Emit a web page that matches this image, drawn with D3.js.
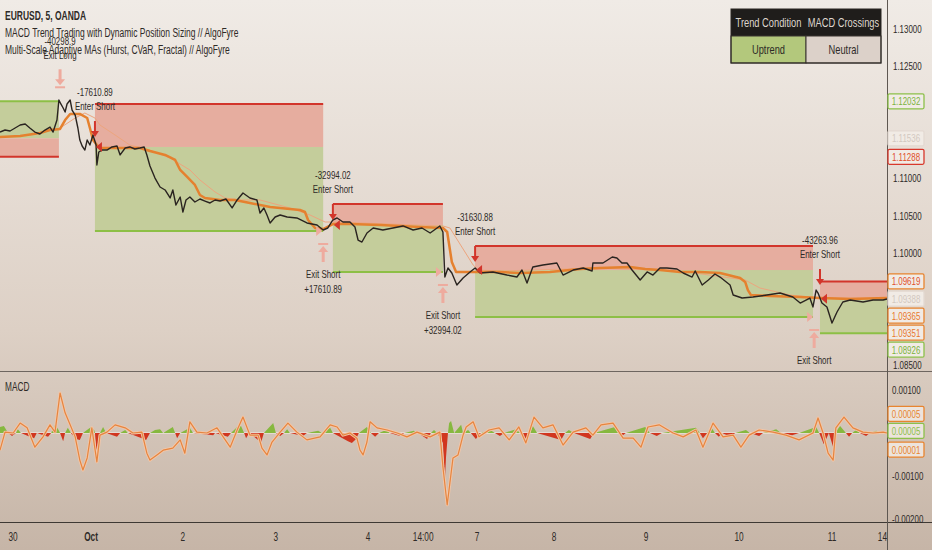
<!DOCTYPE html>
<html>
<head>
<meta charset="utf-8">
<script src="https://cdn.jsdelivr.net/npm/d3@7/dist/d3.min.js"></script>
<style>
html, body { margin: 0; padding: 0; background: #e4d9cf; overflow: hidden; }
svg { display: block; }
text { font-family: "Liberation Sans", Arial, sans-serif; fill: #2e2a27; }
</style>
</head>
<body>
<div id="chart"></div>
<script>
// time unit = hours of the visible (gapless) session axis
var tickT = [3.35, 23.5, 47.2, 71.2, 95.0, 109.2, 123.1, 143.0, 166.7, 190.7, 214.7, 229.2];
var tickLabels = ["30", "Oct", "2", "3", "4", "14:00", "7", "8", "9", "10", "11", "14:00"];

var priceTicks = [1.13, 1.125, 1.11, 1.105, 1.10, 1.085];
var macdTicks = [0.001, -0.001, -0.002];

// EURUSD close
var priceT = [0, 1.3, 2.6, 3.9, 5.2, 6.5, 7.7, 9.0, 10.3, 11.6, 12.9, 13.7, 14.2, 14.7, 15.2, 15.7, 16.3, 16.8, 17.3, 18.1,
  18.6, 19.4, 20.1, 20.6, 21.2, 21.9, 22.5, 23.2, 24.0, 24.8, 25.0, 25.5, 26.3, 27.6, 28.9, 30.2, 31.0, 32.3, 33.5, 34.8,
  36.1, 37.2, 37.9, 38.7, 40.0, 41.3, 42.6, 43.9, 44.6, 45.4, 46.5, 47.2, 48.0, 49.0, 50.3, 51.6, 52.9, 54.2, 55.5, 56.8,
  58.3, 59.9, 61.2, 62.7, 64.5, 66.3, 67.1, 68.1, 68.9, 69.7, 71.0, 72.3, 74.1, 76.6, 79.2, 81.8, 83.4, 84.6, 85.9, 87.0,
  88.5, 90.3, 91.6, 92.4, 93.4, 94.7, 96.3, 98.8, 101.4, 104.0, 106.6, 108.9, 111.0, 113.5, 114.3, 114.8, 115.6, 116.6, 117.9, 119.5,
  121.3, 122.6, 123.9, 127.2, 130.8, 133.4, 134.7, 136.0, 137.5, 140.1, 143.7, 145.3, 147.9, 150.5, 152.8, 153.0, 155.6, 158.0, 159.2, 160.5,
  161.8, 163.1, 165.2, 167.0, 168.5, 170.3, 172.1, 174.7, 176.3, 178.6, 179.4, 181.2, 182.8, 184.5, 185.8, 188.4, 189.2, 191.5, 194.3, 197.9,
  201.3, 204.6, 206.5, 209.0, 209.8, 210.6, 211.1, 212.1, 213.4, 214.7, 216.0, 217.5, 219.4, 222.7, 225.3, 227.9, 228.9];
var priceV = [1.11620, 1.11647, 1.11634, 1.11674, 1.11714, 1.11728, 1.11674, 1.11620, 1.11594, 1.11647, 1.11687, 1.11620, 1.11701, 1.11781, 1.12049, 1.11996, 1.11942, 1.11888, 1.11996, 1.12049,
  1.11915, 1.11848, 1.11674, 1.11513, 1.11433, 1.11379, 1.11513, 1.11446, 1.11580, 1.11446, 1.11179, 1.11353, 1.11379, 1.11379, 1.11420, 1.11433, 1.11313, 1.11406, 1.11420, 1.11393,
  1.11406, 1.11420, 1.11313, 1.11165, 1.11004, 1.10884, 1.10844, 1.10737, 1.10844, 1.10643, 1.10750, 1.10549, 1.10710, 1.10750, 1.10683, 1.10723, 1.10696, 1.10670, 1.10710, 1.10696,
  1.10723, 1.10603, 1.10710, 1.10804, 1.10737, 1.10710, 1.10536, 1.10603, 1.10509, 1.10402, 1.10482, 1.10509, 1.10482, 1.10469, 1.10402, 1.10375, 1.10308, 1.10335, 1.10442, 1.10469,
  1.10415, 1.10415, 1.10348, 1.10174, 1.10147, 1.10268, 1.10335, 1.10308, 1.10335, 1.10362, 1.10308, 1.10335, 1.10268, 1.10362, 1.10281, 1.09679, 1.09799, 1.09732, 1.09571, 1.09665,
  1.09746, 1.09799, 1.09732, 1.09746, 1.09705, 1.09679, 1.09772, 1.09598, 1.09812, 1.09839, 1.09866, 1.09705, 1.09772, 1.09799, 1.09759, 1.09866, 1.09866, 1.09946, 1.09933, 1.09866,
  1.09866, 1.09772, 1.09638, 1.09746, 1.09705, 1.09799, 1.09799, 1.09786, 1.09732, 1.09678, 1.09759, 1.09571, 1.09638, 1.09719, 1.09678, 1.09571, 1.09437, 1.09397, 1.09411, 1.09437,
  1.09464, 1.09411, 1.09330, 1.09397, 1.09277, 1.09504, 1.09464, 1.09330, 1.09277, 1.09062, 1.09210, 1.09344, 1.09370, 1.09344, 1.09370, 1.09370, 1.09384];

// adaptive MAs
var maFastT = [0, 5.2, 10.3, 12.9, 15.5, 16.8, 18.1, 20.6, 22.5, 23.2, 24.0, 25.0, 25.8, 28.4, 36.1, 38.7, 42.6, 45.2, 46.5, 48.3,
  50.3, 51.6, 52.9, 56.8, 60.6, 64.5, 69.7, 77.4, 78.7, 79.5, 81.3, 83.4, 85.9, 90.3, 98.1, 108.4, 114.3, 115.4, 116.6, 117.7,
  123.1, 129.0, 134.2, 141.9, 149.7, 154.8, 162.6, 166.5, 170.3, 175.5, 180.6, 185.8, 191.0, 192.3, 193.0, 193.8, 198.7, 206.5, 211.6, 219.4, 228.9];
var maFastV = [1.11554, 1.11567, 1.11607, 1.11647, 1.11661, 1.11781, 1.11862, 1.11862, 1.11808, 1.11674, 1.11513, 1.11446, 1.11406, 1.11406, 1.11406, 1.11366, 1.11313, 1.11246, 1.11112, 1.11018,
  1.10911, 1.10777, 1.10737, 1.10710, 1.10710, 1.10670, 1.10616, 1.10576, 1.10549, 1.10442, 1.10335, 1.10321, 1.10388, 1.10388, 1.10375, 1.10348, 1.10335, 1.10281, 1.09879, 1.09746,
  1.09746, 1.09746, 1.09732, 1.09746, 1.09786, 1.09799, 1.09812, 1.09786, 1.09772, 1.09746, 1.09746, 1.09732, 1.09665, 1.09612, 1.09504, 1.09437, 1.09424, 1.09411, 1.09397, 1.09384, 1.09397];
var maSlowT = [7.7, 15.5, 19.4, 21.9, 24.5, 25.8, 29.7, 33.5, 38.7, 43.9, 49.0, 51.6, 55.5, 58.1, 61.9, 67.1, 74.8, 80.0, 83.9, 86.5,
  114.3, 116.1, 122.1, 123.4, 129.0, 154.8, 175.5, 192.3, 196.1, 203.9, 211.6, 228.9];
var maSlowV = [1.11580, 1.11674, 1.11808, 1.11875, 1.11808, 1.11714, 1.11580, 1.11446, 1.11379, 1.11272, 1.11112, 1.10978, 1.10817, 1.10737, 1.10710, 1.10710, 1.10603, 1.10509, 1.10415, 1.10415,
  1.10362, 1.10335, 1.09839, 1.09772, 1.09759, 1.09799, 1.09759, 1.09638, 1.09531, 1.09437, 1.09397, 1.09397];

// positions: start, end, entry, stop, target
var posStart = [0, 24.5, 85.9, 122.6, 211.6];
var posEnd = [15.2, 83.4, 114.3, 209.8, 228.9];
var posEntry = [1.11536, 1.11420, 1.10375, 1.09772, 1.09388];
var posStop = [1.11288, 1.11996, 1.10656, 1.10094, 1.09619];
var posTarget = [1.12032, 1.10295, 1.09746, 1.09143, 1.08926];

// short entries; the arrow sits on the signal bar's high
var entryT = [24.5, 85.9, 122.6, 211.6];
var entryPrice = [1.11420, 1.10375, 1.09772, 1.09388];
var entryHigh = [1.11446, 1.10335, 1.09772, 1.09464];
var entryLabels = ["-17610.89", "-32994.02", "-31630.88", "-43263.96"];

var exitT = [83.4, 114.3, 210.1];
var exitPrice = [1.10295, 1.09746, 1.09143];
var exitLabels = ["+17610.89", "+32994.02", "+31630.88"];
var exitLongT = 15.5, exitLongPrice = 1.12032, exitLongLabel = "-40298.9";

var priceLabelValues = [1.12032, 1.11536, 1.11288, 1.09619, 1.09388, 1.09365, 1.09351, 1.08926];
var priceLabelBorder = ["#8cc04a", "#e3d9d1", "#d8382c", "#e8842f", "#e3d9d1", "#e8842f", "#e8842f", "#8cc04a"];
var priceLabelText = ["#7cb33e", "#d2c8c0", "#e0502c", "#e0502c", "#d2c8c0", "#e8782c", "#e8782c", "#7cb33e"];

// MACD pane
var macdT = [0, 1.3, 3.4, 5.2, 7.0, 9.0, 11.1, 12.9, 14.2, 15.5, 16.8, 18.1, 19.4, 20.6, 21.4, 22.5, 23.7, 25.0, 25.8, 27.6,
  29.7, 32.3, 34.3, 36.6, 37.9, 38.7, 40.5, 42.1, 44.6, 46.5, 47.7, 49.0, 50.8, 53.4, 56.0, 59.4, 61.2, 62.7, 64.5, 66.6,
  67.6, 68.9, 70.2, 72.3, 74.3, 76.6, 79.2, 82.6, 85.2, 87.0, 88.5, 90.3, 92.1, 92.9, 93.7, 94.7, 95.5, 97.3, 99.9, 102.5,
  105.0, 107.6, 111.0, 113.5, 114.3, 115.4, 116.1, 116.9, 118.2, 119.5, 120.3, 122.1, 123.6, 126.2, 128.8, 131.4, 133.9, 135.7, 137.8, 140.1,
  142.7, 145.3, 147.9, 151.2, 153.0, 155.1, 158.2, 160.8, 163.4, 165.4, 167.2, 170.1, 173.7, 176.3, 179.6, 181.4, 184.0, 186.6, 189.2, 191.2,
  193.3, 195.9, 199.5, 202.8, 206.2, 209.8, 211.1, 212.4, 213.7, 215.0, 215.7, 217.8, 220.1, 222.7, 225.3, 227.9, 228.9];
var macdV = [-0.00040, 0.00002, 0, 0.00023, 0.00012, -0.00033, -0.00009, 0.00019, 0.00002, 0.00093, 0.00047, 0.00019, -0.00009, -0.00063, -0.00086, -0.00058, 0.00012, -0.00067, -0.00005, 0.00002,
  0.00019, 0.00012, 0, 0.00002, -0.00047, -0.00063, -0.00051, -0.00040, -0.00035, -0.00016, -0.00047, 0.00026, 0.00002, 0, 0.00012, -0.00033, 0.00007, 0.00037, -0.00005, -0.00005,
  -0.00035, -0.00051, -0.00021, 0.00002, 0.00023, 0.00002, -0.00016, -0.00009, 0.00019, 0.00014, -0.00005, 0, -0.00012, -0.00040, -0.00051, -0.00021, 0.00026, 0.00012, 0.00007, 0,
  -0.00009, 0.00002, -0.00009, 0.00002, -0.00079, -0.00167, -0.00116, -0.00058, -0.00051, -0.00005, 0.00014, 0.00026, -0.00009, 0.00007, 0.00012, -0.00016, 0.00014, -0.00023, 0.00037, 0.00012,
  0.00019, -0.00028, 0.00002, 0.00012, -0.00005, 0.00019, 0.00023, -0.00012, -0.00012, -0.00033, 0.00014, 0.00019, 0, -0.00009, 0.00007, -0.00033, 0.00023, -0.00009, -0.00005, -0.00033,
  -0.00005, 0.00007, 0.00002, -0.00005, -0.00016, 0, 0.00035, 0, -0.00047, -0.00063, 0.00012, 0.00037, 0.00012, 0.00002, 0, 0.00002, 0];

var histT = [0, 1.0, 2.1, 3.1, 4.1, 4.6, 5.4, 7.7, 8.8, 9.5, 12.4, 13.2, 14.2, 15.0, 15.5, 16.3, 16.8, 17.5, 18.3, 19.6,
  20.6, 21.4, 23.5, 24.3, 24.5, 24.9, 25.5, 25.8, 26.6, 27.4, 30.2, 31.0, 32.3, 33.0, 36.6, 37.7, 38.7, 40.0, 41.3, 42.1,
  44.6, 45.2, 45.7, 46.5, 49.0, 49.8, 55.0, 55.5, 58.8, 59.6, 61.2, 62.2, 63.0, 63.5, 64.3, 66.6, 67.4, 68.1, 70.5, 71.2,
  72.3, 73.3, 74.1, 74.8, 78.2, 79.2, 82.1, 83.1, 85.2, 85.9, 89.8, 90.8, 91.9, 92.6, 94.7, 95.7, 96.8, 97.8, 99.6, 100.6,
  103.2, 104.3, 106.8, 107.9, 110.2, 111.2, 112.0, 112.8, 114.3, 114.8, 115.1, 115.6, 115.9, 116.4, 117.2, 119.0, 119.5, 120.8, 121.5, 122.8,
  124.1, 126.5, 127.7, 129.0, 130.1, 133.2, 134.2, 135.7, 136.8, 137.5, 138.6, 144.8, 145.8, 146.8, 148.1, 152.3, 153.3, 158.7, 159.7, 160.5,
  161.5, 166.5, 167.7, 169.5, 170.8, 179.6, 180.6, 181.4, 182.5, 183.5, 184.5, 185.5, 186.3, 188.6, 189.7, 192.5, 193.5, 195.9, 196.9, 200.3,
  201.5, 204.4, 206.2, 210.6, 211.4, 212.6, 213.9, 215.0, 215.5, 216.8, 218.3, 219.1, 219.9, 220.9, 221.9, 223.5, 224.5, 226.1, 227.1, 228.9];
var histV = [0.00014, 0.00016, 0, -0.00007, 0, 0.00009, 0, -0.00009, -0.00012, 0, -0.00009, 0, 0.00019, 0.00009, 0, -0.00019, 0, 0.00012, 0, -0.00014,
  -0.00016, 0, 0.00014, 0.00007, 0, -0.00042, -0.00012, 0, 0.00014, 0, -0.00009, 0, 0.00007, 0, -0.00012, -0.00016, 0, 0.00007, 0.00009, 0,
  0.00014, 0, -0.00012, 0, 0.00012, 0, -0.00005, 0, -0.00009, 0, 0.00014, 0.00016, 0, -0.00012, 0, -0.00016, -0.00021, 0, 0.00023, 0,
  -0.00007, 0, 0.00009, 0, -0.00007, 0, 0.00005, 0, 0.00012, 0, -0.00019, -0.00023, -0.00014, 0, 0.00014, 0, -0.00009, 0, 0.00007, 0,
  -0.00007, 0, 0.00005, 0, -0.00014, 0, 0.00007, 0, -0.00023, -0.00112, -0.00056, 0, 0.00023, 0.00028, 0, 0.00019, 0, 0.00007, 0, -0.00014,
  0, 0.00007, 0, -0.00007, 0, 0.00009, 0, -0.00016, 0, 0.00016, 0, -0.00016, 0, 0.00007, 0, -0.00014, 0, 0.00014, 0, -0.00007,
  0, 0.00014, 0, -0.00007, 0, 0.00012, 0, -0.00012, 0, 0.00014, 0, -0.00009, 0, -0.00009, 0, 0.00007, 0, -0.00007, 0, 0.00009,
  0, -0.00005, 0, 0.00014, 0, -0.00026, 0, -0.00033, 0, 0.00016, 0, -0.00009, 0, 0.00007, 0, -0.00007, 0, 0.00005, 0, 0];

var macdLabelValues = [0.00005, 0.00005, 0.00001];
var macdLabelColors = ["#e8842f", "#8cc04a", "#e8842f"];

var tableHead = ["Trend Condition", "MACD Crossings"];
var tableRow = ["Uptrend", "Neutral"];
var tableFill = ["#b3c87c", "#dcd1c9"];

var titleLines = ["EURUSD, 5, OANDA", "MACD Trend Trading with Dynamic Position Sizing // AlgoFyre", "Multi-Scale Adaptive MAs (Hurst, CVaR, Fractal) // AlgoFyre"];

var W = 932, H = 550, plotR = 887;
var squeeze = 0.69; // the original UI font is a condensed face
var greenZone = "#c4cd9b", redZone = "#e6ad9f", redLine = "#d2352b", greenLine = "#8dbf46", pink = "#eeab9e";

function pts(ts, vs) {
	var out = [];
	for (var i = 0; i < ts.length; i++) out.push({ t: ts[i], v: vs[i] });
	return out;
}

// keep axis labels from overlapping, pushing later ones down
function stack(ys, gap) {
	var out = ys.slice();
	for (var i = 1; i < out.length; i++) {
		if (out[i] < out[i - 1] + gap) out[i] = out[i - 1] + gap;
	}
	return out;
}

var x = d3.scaleLinear().domain([0, 229]).range([0, 887.4]);
var y = d3.scaleLinear().domain([1.085, 1.13]).range([365, 29]);
var ym = d3.scaleLinear().domain([-0.002, 0.001]).range([519, 390]);

var svg = d3.select("#chart").append("svg").attr("width", W).attr("height", H);
var defs = svg.append("defs");
var grad = defs.append("linearGradient").attr("id", "bg").attr("x1", 0).attr("y1", 0).attr("x2", 0).attr("y2", 1);
grad.append("stop").attr("offset", "0%").attr("stop-color", "#f0ebe6");
grad.append("stop").attr("offset", "60%").attr("stop-color", "#ddd0c5");
grad.append("stop").attr("offset", "100%").attr("stop-color", "#c6b5a7");
svg.append("rect").attr("width", W).attr("height", H).attr("fill", "url(#bg)");

defs.append("clipPath").attr("id", "clipP").append("rect").attr("x", 0).attr("y", 0).attr("width", plotR).attr("height", 370);
defs.append("clipPath").attr("id", "clipM").append("rect").attr("x", 0).attr("y", 372).attr("width", plotR).attr("height", 150);

// ---------- price pane ----------
var pane = svg.append("g").attr("clip-path", "url(#clipP)");

var boxes = posStart.map(function(s, i) {
	return { s: s, e: posEnd[i], entry: posEntry[i], stop: posStop[i], target: posTarget[i] };
});

pane.selectAll("rect.win").data(boxes).enter().append("rect")
	.attr("x", function(d) { return x(d.s); })
	.attr("width", function(d) { return x(d.e) - x(d.s); })
	.attr("y", function(d) { return Math.min(y(d.target), y(d.entry)); })
	.attr("height", function(d) { return Math.abs(y(d.target) - y(d.entry)); })
	.attr("fill", greenZone);
pane.selectAll("rect.loss").data(boxes).enter().append("rect")
	.attr("x", function(d) { return x(d.s); })
	.attr("width", function(d) { return x(d.e) - x(d.s); })
	.attr("y", function(d) { return Math.min(y(d.stop), y(d.entry)); })
	.attr("height", function(d) { return Math.abs(y(d.stop) - y(d.entry)); })
	.attr("fill", redZone);
pane.selectAll("line.stop").data(boxes).enter().append("line")
	.attr("x1", function(d) { return x(d.s); }).attr("x2", function(d) { return x(d.e); })
	.attr("y1", function(d) { return y(d.stop); }).attr("y2", function(d) { return y(d.stop); })
	.attr("stroke", redLine).attr("stroke-width", 2);
pane.selectAll("line.tgt").data(boxes).enter().append("line")
	.attr("x1", function(d) { return x(d.s); }).attr("x2", function(d) { return x(d.e); })
	.attr("y1", function(d) { return y(d.target); }).attr("y2", function(d) { return y(d.target); })
	.attr("stroke", greenLine).attr("stroke-width", 2);

var line = d3.line().x(function(d) { return x(d.t); }).y(function(d) { return y(d.v); });

pane.append("path").datum(pts(maSlowT, maSlowV)).attr("d", line)
	.attr("fill", "none").attr("stroke", "#eda57e").attr("stroke-width", 1);
pane.append("path").datum(pts(maFastT, maFastV)).attr("d", line)
	.attr("fill", "none").attr("stroke", "#e5812f").attr("stroke-width", 2.5).attr("stroke-linejoin", "round");
pane.append("path").datum(pts(priceT, priceV)).attr("d", line)
	.attr("fill", "none").attr("stroke", "#2a2420").attr("stroke-width", 1.4).attr("stroke-linejoin", "round");

// small entry / exit flags at the zone edges
pane.selectAll("path.eflag").data(entryT).enter().append("path")
	.attr("d", "M0,-5L-6,0L0,5Z").attr("fill", redLine)
	.attr("transform", function(d, i) { return "translate(" + (x(d) + 7) + "," + y(entryPrice[i]) + ")"; });
pane.selectAll("path.xflag").data(exitT).enter().append("path")
	.attr("d", "M0,-5L6,0L0,5Z").attr("fill", pink)
	.attr("transform", function(d, i) { return "translate(" + (x(d) - 7) + "," + y(exitPrice[i]) + ")"; });

// enter short arrows + labels
entryT.forEach(function(t, i) {
	var cx = x(t), tip = y(entryHigh[i]) - 8, top = tip - 16;
	pane.append("line").attr("x1", cx).attr("x2", cx).attr("y1", top).attr("y2", tip - 5)
		.attr("stroke", redLine).attr("stroke-width", 2);
	pane.append("path").attr("d", "M" + (cx - 4) + "," + (tip - 6) + "L" + (cx + 4) + "," + (tip - 6) + "L" + cx + "," + tip + "Z")
		.attr("fill", redLine);
	pane.append("text").attr("x", cx).attr("y", top - 11).attr("text-anchor", "middle").attr("font-size", 11.5).text("Enter Short");
	pane.append("text").attr("x", cx).attr("y", top - 25).attr("text-anchor", "middle").attr("font-size", 11.5).text(entryLabels[i]);
});

// exit short arrows + labels
exitT.forEach(function(t, i) {
	var cx = x(t), tip = y(exitPrice[i]) + 13, bot = tip + 18;
	pane.append("line").attr("x1", cx - 5).attr("x2", cx + 5).attr("y1", tip).attr("y2", tip)
		.attr("stroke", pink).attr("stroke-width", 2);
	pane.append("path").attr("d", "M" + (cx - 5) + "," + (tip + 8) + "L" + (cx + 5) + "," + (tip + 8) + "L" + cx + "," + (tip + 2) + "Z")
		.attr("fill", pink);
	pane.append("line").attr("x1", cx).attr("x2", cx).attr("y1", tip + 7).attr("y2", bot)
		.attr("stroke", pink).attr("stroke-width", 3);
	pane.append("text").attr("x", cx).attr("y", bot + 16).attr("text-anchor", "middle").attr("font-size", 11.5).text("Exit Short");
	pane.append("text").attr("x", cx).attr("y", bot + 31).attr("text-anchor", "middle").attr("font-size", 11.5).text(exitLabels[i]);
});

// exit long (down arrow)
(function() {
	var cx = x(exitLongT), tip = y(exitLongPrice) - 14, top = tip - 18;
	pane.append("line").attr("x1", cx - 5).attr("x2", cx + 5).attr("y1", tip).attr("y2", tip)
		.attr("stroke", pink).attr("stroke-width", 2);
	pane.append("path").attr("d", "M" + (cx - 5) + "," + (tip - 8) + "L" + (cx + 5) + "," + (tip - 8) + "L" + cx + "," + (tip - 2) + "Z")
		.attr("fill", pink);
	pane.append("line").attr("x1", cx).attr("x2", cx).attr("y1", top).attr("y2", tip - 7)
		.attr("stroke", pink).attr("stroke-width", 3);
	pane.append("text").attr("x", cx).attr("y", top - 10).attr("text-anchor", "middle").attr("font-size", 11.5).text("Exit Long");
	pane.append("text").attr("x", cx).attr("y", top - 24).attr("text-anchor", "middle").attr("font-size", 11.5).text(exitLongLabel);
})();

// title lines
svg.selectAll("text.title").data(titleLines).enter().append("text")
	.attr("x", 5).attr("y", function(d, i) { return 20 + i * 17; })
	.attr("font-size", 12.3).attr("font-weight", function(d, i) { return i == 0 ? "bold" : "normal"; })
	.attr("fill", "#2e2a27").text(function(d) { return d; });

// status table
var tb = svg.append("g");
tb.append("rect").attr("x", 731).attr("y", 9).attr("width", 150).attr("height", 27).attr("fill", "#1f1d1b");
tableRow.forEach(function(s, i) {
	tb.append("rect").attr("x", 731 + i * 75).attr("y", 36).attr("width", 75).attr("height", 27)
		.attr("fill", tableFill[i]).attr("stroke", "#3a3530").attr("stroke-width", 1);
	tb.append("text").attr("x", 768.5 + i * 75).attr("y", 27).attr("text-anchor", "middle")
		.attr("font-size", 13.5).style("fill", "#ded6ce").text(tableHead[i]);
	tb.append("text").attr("x", 768.5 + i * 75).attr("y", 54).attr("text-anchor", "middle")
		.attr("font-size", 13.5).text(s);
});
tb.append("rect").attr("x", 731).attr("y", 9).attr("width", 150).attr("height", 54)
	.attr("fill", "none").attr("stroke", "#2a2622").attr("stroke-width", 1);

// ---------- MACD pane ----------
var mp = svg.append("g").attr("clip-path", "url(#clipM)");
var hp = pts(histT, histV);
mp.append("line").attr("x1", 0).attr("x2", plotR).attr("y1", ym(0)).attr("y2", ym(0))
	.attr("stroke", "#f6f1ec").attr("stroke-width", 1);
mp.append("path").datum(hp)
	.attr("d", d3.area().x(function(d) { return x(d.t); }).y0(ym(0)).y1(function(d) { return ym(Math.max(0, d.v)); }))
	.attr("fill", "#86b83f");
mp.append("path").datum(hp)
	.attr("d", d3.area().x(function(d) { return x(d.t); }).y0(ym(0)).y1(function(d) { return ym(Math.min(0, d.v)); }))
	.attr("fill", "#d1361f");
var mline = d3.line().x(function(d) { return x(d.t); }).y(function(d) { return ym(d.v); });
mp.append("path").datum(pts(macdT, macdV)).attr("d", mline)
	.attr("fill", "none").attr("stroke", "#f2c6a8").attr("stroke-width", 3).attr("stroke-linejoin", "round");
mp.append("path").datum(pts(macdT, macdV)).attr("d", mline)
	.attr("fill", "none").attr("stroke", "#e6853f").attr("stroke-width", 1.2).attr("stroke-linejoin", "round");
svg.append("text").attr("x", 5).attr("y", 391).attr("font-size", 12).text("MACD");

// ---------- frame lines ----------
svg.append("line").attr("x1", 0).attr("x2", W).attr("y1", 371.5).attr("y2", 371.5).attr("stroke", "#6e6660").attr("stroke-width", 1);
svg.append("line").attr("x1", 0).attr("x2", W).attr("y1", 522.5).attr("y2", 522.5).attr("stroke", "#3e3934").attr("stroke-width", 1);
svg.append("line").attr("x1", plotR + 0.5).attr("x2", plotR + 0.5).attr("y1", 0).attr("y2", H).attr("stroke", "#5e5751").attr("stroke-width", 1);

// ---------- right axes ----------
svg.selectAll("text.ptick").data(priceTicks).enter().append("text")
	.attr("x", 893).attr("y", function(d) { return y(d) + 4; }).attr("font-size", 11.5)
	.text(function(d) { return d3.format(".5f")(d); });
svg.selectAll("text.mtick").data(macdTicks).enter().append("text")
	.attr("x", 892).attr("y", function(d) { return ym(d) + 4; }).attr("font-size", 11.5)
	.text(function(d) { return d3.format(".5f")(d).replace("\u2212", "-"); });

var plY = stack(priceLabelValues.map(function(v) { return y(v); }), 17);
priceLabelValues.forEach(function(v, i) {
	svg.append("rect").attr("x", 888).attr("y", plY[i] - 7.5).attr("width", 36).attr("height", 15)
		.attr("rx", 1.5).attr("fill", "#f1ebe5").attr("stroke", priceLabelBorder[i]).attr("stroke-width", 1.3);
	svg.append("text").attr("x", 906).attr("y", plY[i] + 4).attr("text-anchor", "middle").attr("font-size", 11.5)
		.style("fill", priceLabelText[i]).text(d3.format(".5f")(v));
});

// macd labels spread evenly around their shared value
var mlY = macdLabelValues.map(function(v, i) { return ym(v) + (i - 1) * 17; });
macdLabelValues.forEach(function(v, i) {
	svg.append("rect").attr("x", 888).attr("y", mlY[i] - 7.5).attr("width", 36).attr("height", 15)
		.attr("rx", 1.5).attr("fill", "#ece4dd").attr("stroke", macdLabelColors[i]).attr("stroke-width", 1.3);
	svg.append("text").attr("x", 906).attr("y", mlY[i] + 4).attr("text-anchor", "middle").attr("font-size", 11.5)
		.style("fill", macdLabelColors[i]).text(d3.format(".5f")(v));
});

// ---------- time axis ----------
defs.append("clipPath").attr("id", "clipX").append("rect").attr("x", 0).attr("y", 523).attr("width", plotR).attr("height", 27);
svg.append("g").attr("clip-path", "url(#clipX)").selectAll("text").data(tickT).enter().append("text")
	.attr("x", function(d) { return x(d); }).attr("y", 541).attr("text-anchor", "middle").attr("font-size", 12)
	.attr("font-weight", function(d, i) { return tickLabels[i] == "Oct" ? "bold" : "normal"; })
	.text(function(d, i) { return tickLabels[i]; });

// condense every label to mimic the narrow UI face
svg.selectAll("text").each(function() {
	var w = this.getComputedTextLength();
	if (w > 0) {
		this.setAttribute("textLength", (w * squeeze).toFixed(1));
		this.setAttribute("lengthAdjust", "spacingAndGlyphs");
	}
});
</script>
</body>
</html>
